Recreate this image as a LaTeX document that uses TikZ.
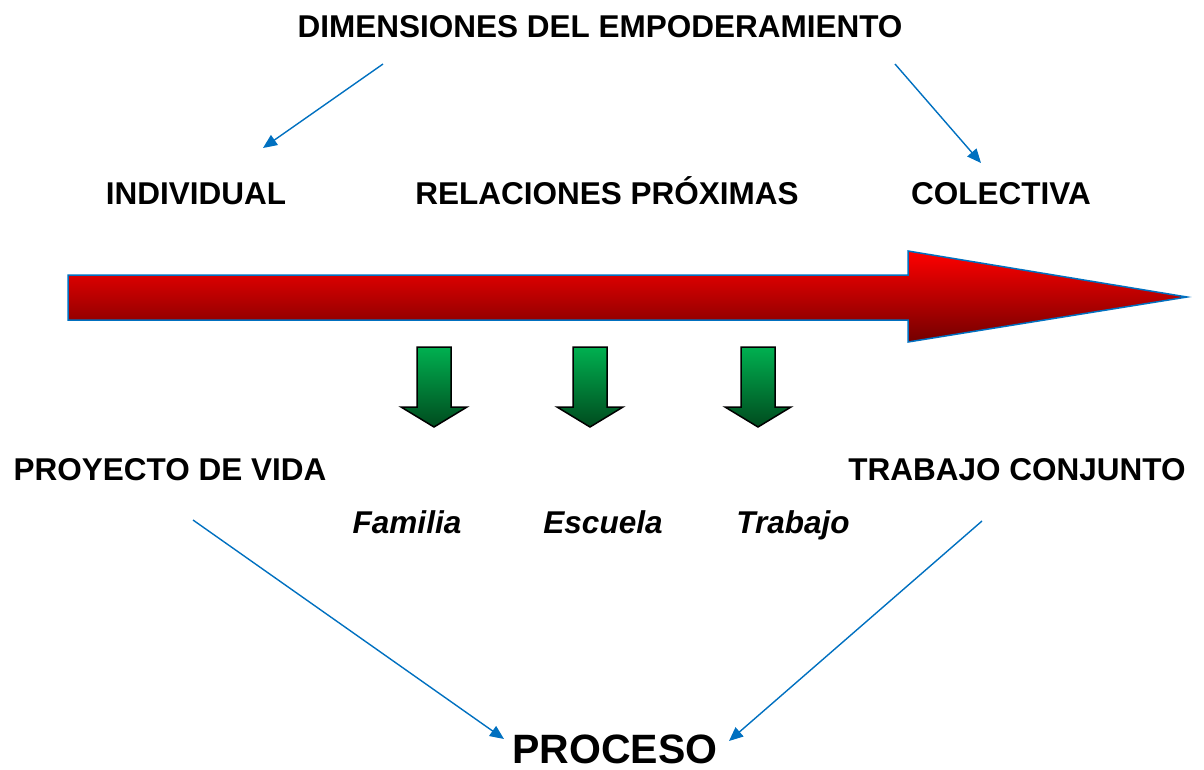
\documentclass[tikz,border=0pt]{standalone}
\usepackage{fontspec}
\setmainfont{Liberation Sans}
\usepackage{xcolor}
\usetikzlibrary{arrows.meta}

\definecolor{linkblue}{RGB}{0,112,192}
\definecolor{redtop}{RGB}{255,0,0}
\definecolor{redbottom}{RGB}{115,0,0}
\definecolor{greentop}{RGB}{0,176,80}
\definecolor{greenbottom}{RGB}{0,75,30}

\begin{document}
\begin{tikzpicture}[x=1pt,y=-1pt,
    label/.style={anchor=base, inner sep=0pt, font=\fontsize{31.5}{36}\selectfont\bfseries},
    place/.style={label, font=\fontsize{31.5}{36}\selectfont\bfseries\itshape},
    link/.style={draw=linkblue, line width=1.4pt, -{Triangle[length=14pt,width=12pt]}}]
				\useasboundingbox (0,0) rectangle (1204,769);
				
				% big red arrow
				\shadedraw[draw=linkblue, line width=1.5pt, top color=redtop, bottom color=redbottom]
				  (68,275) -- (908,275) -- (908,251) -- (1187,297) -- (908,342) -- (908,320) -- (68,320) -- cycle;
				
				% green arrows
				\foreach \cx in {434,590,758}
				  \shadedraw[draw=black, line width=1.5pt, top color=greentop, bottom color=greenbottom]
				    (\cx-17,347) -- (\cx+17,347) -- (\cx+17,407) -- (\cx+33,407) -- (\cx,427)
				    -- (\cx-33,407) -- (\cx-17,407) -- cycle;
				
				\node[label] (title) at (600,37) {DIMENSIONES DEL EMPODERAMIENTO};
				\node[label] (indiv) at (196,204) {INDIVIDUAL};
				\node[label] (rel) at (607,204) {RELACIONES PRÓXIMAS};
				\node[label] (colect) at (1001,204) {COLECTIVA};
				
				\node[label] (vida) at (170,480) {PROYECTO DE VIDA};
				\node[label] (conj) at (1017,480) {TRABAJO CONJUNTO};
				
				\node[place] (fam) at (407,533) {Familia};
				\node[place] (esc) at (603,533) {Escuela};
				\node[place] (trab) at (793,533) {Trabajo};
				
				\node[label, font=\fontsize{41}{46}\selectfont\bfseries] (proc) at (615,763) {PROCESO};
				
				% connector ends
				\coordinate (t1) at (383,64);
				\coordinate (i1) at (263,148);
				\coordinate (t2) at (895,64);
				\coordinate (c1) at (981,163);
				\coordinate (v1) at (193,520);
				\coordinate (p1) at (504,739);
				\coordinate (j1) at (982,521);
				\coordinate (p2) at (729,741);
				
				\draw[link] (t1) -- (i1);
				\draw[link] (t2) -- (c1);
				\draw[link] (v1) -- (p1);
				\draw[link] (j1) -- (p2);
			\end{tikzpicture}
\end{document}
